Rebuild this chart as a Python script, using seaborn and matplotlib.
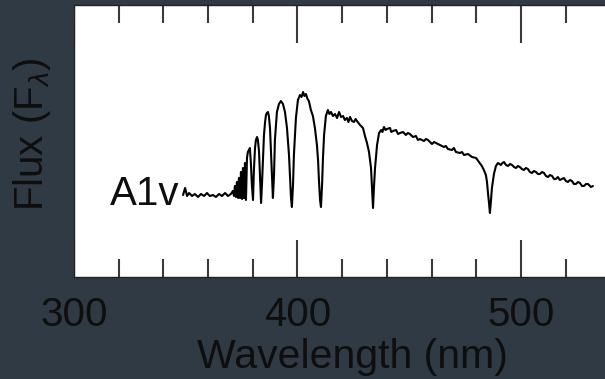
import matplotlib
matplotlib.use("Agg")
import matplotlib.pyplot as plt
import seaborn as sns
import pandas as pd

# ---- data: A1V stellar spectrum (arbitrary flux units) ----
wave_blue = [348.8, 349.7, 350.6, 351.5, 352.8, 354.1, 355.5, 356.8, 358.2, 359.5,
             360.8, 362.2, 363.5, 364.9, 366.2, 367.6, 368.9, 370.2, 371.1, 371.6]
flux_blue = [0.82, 0.89, 0.81, 0.84, 0.81, 0.83, 0.80, 0.83, 0.81, 0.84,
             0.81, 0.82, 0.80, 0.83, 0.81, 0.84, 0.81, 0.83, 0.86, 0.81]

wave_balmer = [372.0, 372.5, 372.9, 373.4, 373.8, 374.3, 374.7, 375.2, 375.6, 376.1,
               376.5, 376.95, 377.4, 377.8, 378.3, 378.7, 379.2, 379.6, 380.1, 380.5,
               381.0, 381.4, 381.9, 382.3, 382.8, 383.2, 383.7, 384.1, 384.6, 385.0,
               385.5, 385.9, 386.3, 386.8, 387.2, 387.7, 388.1, 388.6, 389.0, 389.5,
               389.9, 390.8, 391.7, 392.6, 393.5, 394.4, 395.3, 396.2, 396.6, 397.1,
               397.5, 398.0, 398.4, 399.3, 400.2, 401.1, 401.8, 402.5, 403.1, 403.8,
               404.5, 405.1, 406.0,
               406.9, 407.8, 408.7, 409.2, 409.6, 410.1, 410.5, 411.0, 411.4, 411.9,
               412.7, 413.6, 414.3, 415.0, 415.9, 416.8, 417.7, 418.6, 419.5, 420.4,
               421.2, 422.1, 422.8, 423.5, 424.4, 425.3, 426.0, 426.6,
               428.0, 429.3, 430.2, 431.1, 432.0, 432.9, 433.3, 433.8, 434.2, 434.7,
               435.6, 436.5, 437.4, 438.0, 438.7, 439.4]
flux_balmer = [0.91, 0.80, 0.95, 0.79, 0.99, 0.79, 1.05, 0.78, 1.09, 0.79,
               1.14, 0.77, 1.19, 1.25, 1.27, 1.29, 1.12, 0.92, 0.77, 1.07,
               1.29, 1.37, 1.40, 1.37, 1.25, 1.02, 0.74, 0.92, 1.19, 1.42,
               1.55, 1.62, 1.64, 1.65, 1.61, 1.49, 1.27, 0.99, 0.79, 1.02,
               1.37, 1.65, 1.73, 1.76, 1.73, 1.65, 1.49, 1.22, 1.02, 0.79,
               0.70, 0.92, 1.22, 1.59, 1.77, 1.82, 1.80, 1.85, 1.81, 1.83,
               1.78, 1.76, 1.67,
               1.61, 1.49, 1.32, 1.17, 0.97, 0.77, 0.70, 0.92, 1.19, 1.42,
               1.61, 1.67, 1.63, 1.65, 1.61, 1.63, 1.59, 1.65, 1.60, 1.61,
               1.57, 1.59, 1.55, 1.60, 1.56, 1.55, 1.58, 1.56,
               1.52, 1.49, 1.41, 1.34, 1.25, 1.09, 0.92, 0.69, 0.89, 1.09,
               1.32, 1.44, 1.47, 1.45, 1.50, 1.47]

wave_red = [440.0, 441.4, 442.0, 442.7, 444.1, 445.0, 445.9, 447.2, 448.5, 449.4,
            450.3, 451.7, 453.0, 453.9, 454.8, 456.6, 457.5, 458.4, 460.2, 461.1,
            462.0, 463.7, 465.5, 466.4, 467.3, 469.1, 470.0, 470.9, 472.7, 473.6,
            474.5, 476.3, 478.1, 479.9, 481.2, 482.5, 483.4, 484.3, 484.8,
            485.2, 485.7, 486.1, 486.6, 487.0, 487.5, 487.9, 488.8, 489.7, 491.0,
            491.7, 492.4, 493.3, 494.2, 495.1, 496.0, 496.9, 497.8, 498.6, 499.5,
            500.4, 501.3, 502.2, 503.1, 504.0, 504.9, 505.8, 506.7, 507.6, 508.5,
            509.4, 510.3, 511.2, 512.1, 513.0, 513.9, 514.8, 515.6, 516.5, 517.4,
            518.3, 519.2, 520.1, 521.0, 521.9, 522.8, 523.7, 524.6, 525.5, 526.4,
            527.3, 528.2, 529.1, 530.0, 531.3, 532.2]
flux_red = [1.48, 1.49, 1.45, 1.46, 1.47, 1.43, 1.44, 1.45, 1.42, 1.44,
            1.43, 1.40, 1.41, 1.37, 1.38, 1.36, 1.38, 1.37, 1.33, 1.35,
            1.34, 1.32, 1.30, 1.31, 1.28, 1.27, 1.29, 1.25, 1.24, 1.25,
            1.22, 1.23, 1.20, 1.19, 1.15, 1.11, 1.07, 1.02, 0.95,
            0.85, 0.74, 0.64, 0.77, 0.89, 0.97, 1.03, 1.11, 1.14, 1.12,
            1.14, 1.15, 1.12, 1.11, 1.13, 1.12, 1.10, 1.09, 1.11, 1.10,
            1.08, 1.07, 1.09, 1.08, 1.05, 1.04, 1.06, 1.05, 1.03, 1.03,
            1.05, 1.04, 1.01, 1.00, 1.02, 1.01, 0.98, 0.98, 1.00, 0.97,
            0.98, 0.99, 0.96, 0.95, 0.97, 0.96, 0.93, 0.93, 0.95, 0.94,
            0.91, 0.91, 0.93, 0.93, 0.90, 0.91]

x_ticks = [300, 400, 500]
x_tick_labels = ["300", "400", "500"]
star_label = "A1v"

df = pd.DataFrame({
    "wavelength": wave_blue + wave_balmer + wave_red,
    "flux": flux_blue + flux_balmer + flux_red,
})

# ---- styling ----
sns.set_style("white")
plt.rcParams["font.family"] = ["Liberation Sans", "DejaVu Sans"]
plt.rcParams["mathtext.fontset"] = "custom"
plt.rcParams["mathtext.rm"] = "Liberation Sans"
plt.rcParams["mathtext.it"] = "Liberation Sans:italic"
plt.rcParams["xtick.major.size"] = 27
plt.rcParams["xtick.minor.size"] = 13

bg = "#2f3a44"
txt = "#0e0e0e"
tickc = "#3a3a3a"

fig = plt.figure(figsize=(6.05, 3.79), dpi=100, facecolor=bg)
ax = fig.add_axes([74 / 605, 102 / 379, 531 / 605, 272 / 379])
ax.set_facecolor("white")

sns.lineplot(data=df, x="wavelength", y="flux", ax=ax, sort=False,
             estimator=None, color="black", linewidth=1.5)

ax.set_xlim(300, 537.6)
ax.set_ylim(0, 2.72)

ax.set_xticks(x_ticks)
ax.set_xticklabels(x_tick_labels)
ax.set_xticks([t for t in range(320, 540, 20) if t not in x_ticks], minor=True)
ax.set_yticks([])
ax.tick_params(axis="x", which="major", direction="in", length=27, width=1.5,
               color=tickc, top=True, bottom=True, labelsize=29,
               labelcolor=txt, pad=14)
ax.tick_params(axis="x", which="minor", direction="in", length=13, width=1.5,
               color=tickc, top=True, bottom=True)

for s in ["top", "bottom", "left"]:
    ax.spines[s].set_color("#222222")
    ax.spines[s].set_linewidth(1.0)
ax.spines["right"].set_visible(False)

ax.set_xlabel("Wavelength (nm)", fontsize=29.5, color=txt)
ax.xaxis.set_label_coords(0.525, -0.226)
ax.set_ylabel(r"Flux (F$_{\lambda}$)", fontsize=29, color=txt)
ax.yaxis.set_label_coords(-0.04, 0.526)

ax.text(0.068, 0.265, star_label, transform=ax.transAxes, fontsize=29,
        color=txt, ha="left", va="baseline")

fig.savefig("out.png", dpi=100, facecolor=bg)
